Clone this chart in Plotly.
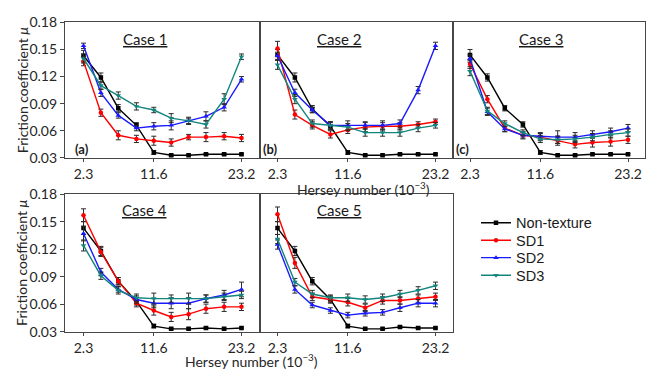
import plotly.graph_objects as go

W, H = 652, 373

# ---------------- data ----------------
hersey = [2.3, 4.6, 6.9, 9.3, 11.6, 13.9, 16.2, 18.5, 20.9, 23.2]
x_tick_vals = [2.3, 11.6, 23.2]
x_tick_text = ["2.3", "11.6", "23.2"]
y_tick_vals = [0.03, 0.06, 0.09, 0.12, 0.15, 0.18]
case_names = ["Case 1", "Case 2", "Case 3", "Case 4", "Case 5"]
panel_tags = ["(a)", "(b)", "(c)", "", ""]
series_names = ["Non-texture", "SD1", "SD2", "SD3"]

# friction coefficient, one row per case
non_texture = [
    [0.143, 0.119, 0.085, 0.066, 0.036, 0.033, 0.033, 0.034, 0.034, 0.034],
    [0.144, 0.119, 0.084, 0.065, 0.036, 0.033, 0.033, 0.034, 0.034, 0.034],
    [0.144, 0.119, 0.085, 0.067, 0.036, 0.033, 0.033, 0.034, 0.034, 0.034],
    [0.143, 0.118, 0.085, 0.063, 0.036, 0.033, 0.033, 0.034, 0.033, 0.034],
    [0.143, 0.118, 0.085, 0.065, 0.036, 0.033, 0.033, 0.035, 0.034, 0.034],
]
sd1 = [
    [0.137, 0.080, 0.055, 0.051, 0.049, 0.047, 0.053, 0.053, 0.054, 0.052],
    [0.151, 0.078, 0.066, 0.056, 0.061, 0.064, 0.065, 0.065, 0.067, 0.070],
    [0.134, 0.095, 0.063, 0.055, 0.053, 0.049, 0.045, 0.047, 0.048, 0.050],
    [0.157, 0.117, 0.085, 0.061, 0.053, 0.046, 0.049, 0.055, 0.057, 0.057],
    [0.158, 0.105, 0.068, 0.065, 0.062, 0.056, 0.064, 0.064, 0.066, 0.068],
]
sd2 = [
    [0.154, 0.102, 0.077, 0.063, 0.065, 0.066, 0.071, 0.076, 0.086, 0.117],
    [0.143, 0.102, 0.083, 0.066, 0.066, 0.066, 0.066, 0.068, 0.105, 0.154],
    [0.140, 0.081, 0.062, 0.055, 0.054, 0.053, 0.053, 0.056, 0.059, 0.063],
    [0.137, 0.095, 0.076, 0.065, 0.061, 0.061, 0.061, 0.066, 0.070, 0.076],
    [0.125, 0.076, 0.059, 0.053, 0.048, 0.050, 0.051, 0.056, 0.061, 0.061],
]
sd3 = [
    [0.140, 0.110, 0.099, 0.087, 0.083, 0.074, 0.071, 0.067, 0.095, 0.142],
    [0.133, 0.095, 0.068, 0.066, 0.064, 0.058, 0.058, 0.058, 0.063, 0.066],
    [0.126, 0.082, 0.068, 0.058, 0.051, 0.050, 0.051, 0.053, 0.056, 0.058],
    [0.124, 0.091, 0.075, 0.067, 0.066, 0.066, 0.066, 0.066, 0.068, 0.070],
    [0.131, 0.084, 0.071, 0.067, 0.067, 0.065, 0.067, 0.071, 0.075, 0.080],
]

# error bar half-widths, one row per case
non_texture_err = [
    [0.006, 0.005, 0.004, 0.003, 0.002, 0.001, 0.001, 0.001, 0.001, 0.001],
    [0.006, 0.005, 0.004, 0.004, 0.002, 0.001, 0.001, 0.001, 0.001, 0.001],
    [0.006, 0.004, 0.003, 0.003, 0.002, 0.001, 0.001, 0.001, 0.001, 0.001],
    [0.007, 0.005, 0.004, 0.004, 0.002, 0.001, 0.001, 0.001, 0.001, 0.001],
    [0.007, 0.005, 0.004, 0.003, 0.002, 0.001, 0.001, 0.001, 0.001, 0.001],
]
sd1_err = [
    [0.005, 0.004, 0.005, 0.004, 0.005, 0.004, 0.003, 0.005, 0.004, 0.004],
    [0.008, 0.005, 0.004, 0.004, 0.004, 0.005, 0.004, 0.004, 0.003, 0.003],
    [0.005, 0.004, 0.004, 0.004, 0.004, 0.005, 0.004, 0.005, 0.005, 0.004],
    [0.007, 0.005, 0.004, 0.004, 0.005, 0.005, 0.006, 0.005, 0.005, 0.004],
    [0.008, 0.006, 0.004, 0.004, 0.004, 0.004, 0.004, 0.004, 0.004, 0.004],
]
sd2_err = [
    [0.003, 0.004, 0.003, 0.003, 0.004, 0.005, 0.004, 0.005, 0.004, 0.003],
    [0.004, 0.004, 0.003, 0.004, 0.005, 0.004, 0.005, 0.004, 0.004, 0.004],
    [0.004, 0.004, 0.003, 0.003, 0.004, 0.007, 0.005, 0.004, 0.004, 0.004],
    [0.008, 0.004, 0.003, 0.004, 0.005, 0.006, 0.006, 0.004, 0.005, 0.008],
    [0.005, 0.004, 0.003, 0.003, 0.003, 0.003, 0.003, 0.004, 0.004, 0.004],
]
sd3_err = [
    [0.005, 0.004, 0.004, 0.004, 0.003, 0.005, 0.003, 0.004, 0.006, 0.003],
    [0.005, 0.005, 0.004, 0.004, 0.004, 0.004, 0.004, 0.004, 0.004, 0.003],
    [0.005, 0.004, 0.003, 0.003, 0.004, 0.004, 0.004, 0.004, 0.004, 0.004],
    [0.006, 0.004, 0.004, 0.004, 0.006, 0.004, 0.006, 0.004, 0.004, 0.004],
    [0.005, 0.004, 0.004, 0.003, 0.004, 0.004, 0.004, 0.004, 0.004, 0.004],
]

# ---------------- style ----------------
series_values = [non_texture, sd1, sd2, sd3]
series_errors = [non_texture_err, sd1_err, sd2_err, sd3_err]
colors = ["#000000", "#ff0000", "#1a1aff", "#12857d"]
symbols = ["square", "circle", "triangle-up", "triangle-down"]
msizes = [4.5, 4.5, 5, 5]
AX = "#464646"
TXT = "#262626"
FONT = "Lato, Open Sans, sans-serif"
LEG_FONT = "Liberation Sans, Arial, sans-serif"

# pixel boxes of panels: (left, right, top, bottom)
boxes = [(65, 260, 14, 156), (260, 453, 14, 156), (453, 645, 14, 156),
         (65, 260, 194, 338), (260, 453, 194, 338)]
legend_rows_px = [224, 242.3, 260.6, 279]

fig = go.Figure()
layout = dict(width=W, height=H, margin=dict(l=0, r=0, t=0, b=0),
              plot_bgcolor="white", paper_bgcolor="white",
              font=dict(family=FONT, size=13, color=TXT),
              showlegend=True)
annotations = []

span_px = 158.0
scale = span_px / (hersey[-1] - hersey[0])
for i, (l, r, t, b) in enumerate(boxes):
    n = "" if i == 0 else str(i + 1)
    pad_l = (r - l - span_px) / 2
    xr = [hersey[0] - pad_l / scale, hersey[-1] + pad_l / scale]
    first_col = i in (0, 3)
    layout["xaxis" + n] = dict(
        domain=[l / W, r / W], range=xr, anchor="y" + n,
        showline=True, mirror=True, linecolor=AX, linewidth=1.3,
        showgrid=False, zeroline=False,
        tickvals=x_tick_vals, ticktext=x_tick_text, ticks="outside",
        ticklen=3, tickwidth=1.3, tickcolor=AX,
        tickfont=dict(family=FONT, size=14, color=TXT))
    layout["yaxis" + n] = dict(
        domain=[1 - b / H, 1 - t / H], range=[0.03, 0.18], anchor="x" + n,
        showline=True, mirror=True, linecolor=AX, linewidth=1.3,
        showgrid=False, zeroline=False,
        tickvals=y_tick_vals, tickformat=".2f",
        ticks="outside" if first_col else "", ticklen=4, tickwidth=1.3,
        tickcolor=AX, showticklabels=first_col,
        tickfont=dict(family=FONT, size=14, color=TXT))
    for k in range(4):
        fig.add_trace(go.Scatter(
            x=hersey, y=series_values[k][i], name=series_names[k],
            mode="lines+markers", xaxis="x" + n, yaxis="y" + n,
            showlegend=(i == 0),
            legend="legend" if k == 0 else "legend" + str(k + 1),
            line=dict(color=colors[k], width=1.4),
            marker=dict(symbol=symbols[k], size=msizes[k], color=colors[k]),
            error_y=dict(type="data", array=series_errors[k][i],
                         color="#2b2b2b", thickness=1, width=2.5)))
    # case title
    cx = (l + (r - l) * 0.41) if i != 2 else (l + (r - l) * 0.46)
    annotations.append(dict(
        x=cx / W, y=1 - (t + 17) / H, xref="paper", yref="paper",
        text="<u>" + case_names[i] + "</u>", showarrow=False,
        font=dict(family=FONT, size=15, color="#1a1a1a"),
        xanchor="center", yanchor="middle"))
    if panel_tags[i]:
        tx = l + (8 if i == 0 else 1)
        annotations.append(dict(
            x=tx / W, y=1 - (b - 9) / H, xref="paper", yref="paper",
            text="<b>" + panel_tags[i] + "</b>", showarrow=False,
            font=dict(family=FONT, size=13, color="#1a1a1a"),
            xanchor="left", yanchor="middle"))

# axis titles
for cy in [(14 + 156) / 2, (194 + 338) / 2]:
    annotations.append(dict(
        x=22 / W, y=1 - cy / H, xref="paper", yref="paper",
        text="Friction coefficient <i>μ</i>", textangle=-90, showarrow=False,
        font=dict(family=FONT, size=14, color=TXT),
        xanchor="center", yanchor="middle"))
for cx, top in [(363, 176), (251, 356)]:
    annotations.append(dict(
        x=cx / W, y=1 - top / H, xref="paper", yref="paper",
        text="Hersey number (10<sup>−3</sup>)", showarrow=False,
        font=dict(family=FONT, size=14, color=TXT),
        xanchor="center", yanchor="top"))

layout["annotations"] = annotations
for k, ypx in enumerate(legend_rows_px):
    key = "legend" if k == 0 else "legend" + str(k + 1)
    layout[key] = dict(x=476 / W, y=1 - ypx / H, xanchor="left",
                       yanchor="middle",
                       font=dict(family=LEG_FONT, size=14.5, color="#1a1a1a"),
                       bgcolor="rgba(0,0,0,0)", itemwidth=30)
fig.update_layout(**layout)
fig.write_html("out.html")
